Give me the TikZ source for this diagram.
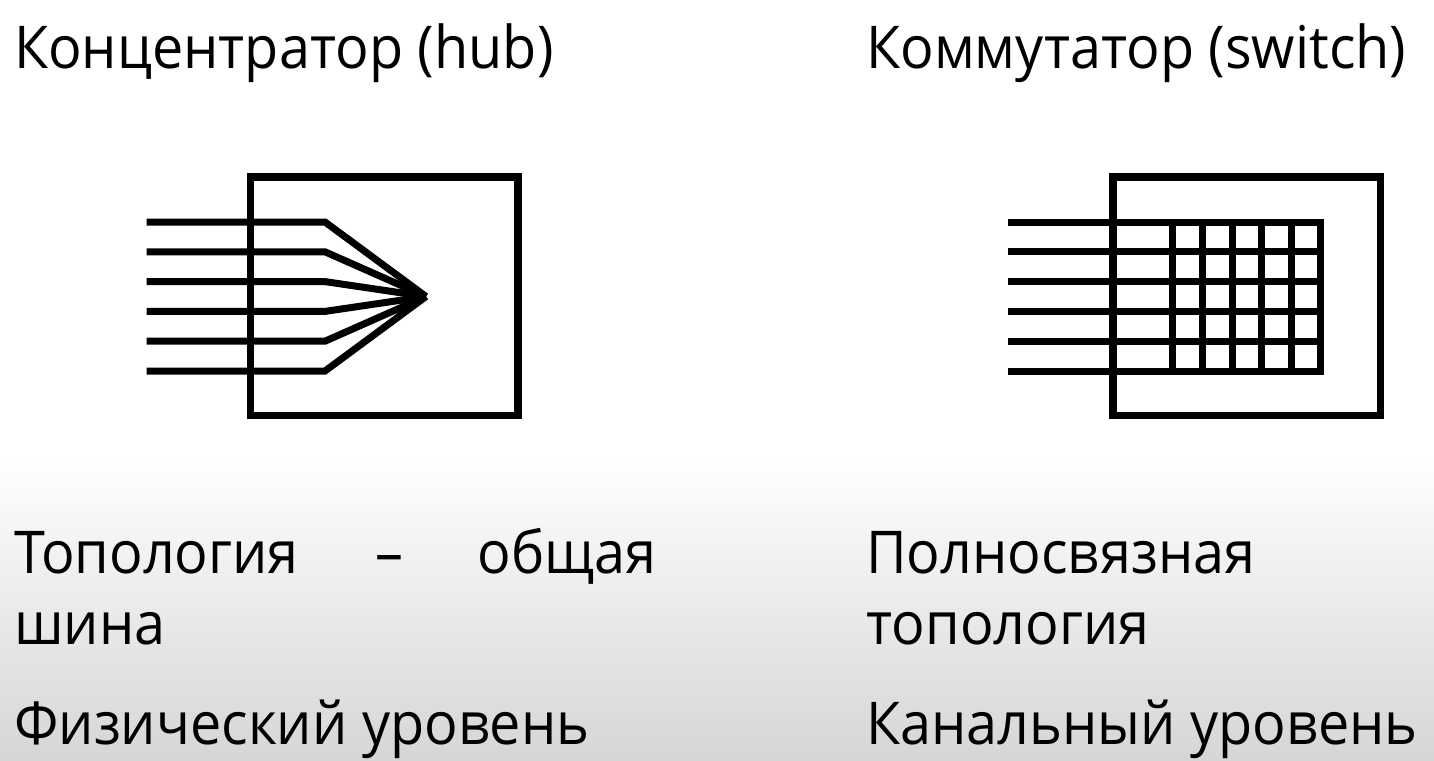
\documentclass[tikz,border=0pt]{standalone}
\usepackage{fontspec}
\setmainfont[FakeStretch=0.945]{Open Sans}
\begin{document}
\begin{tikzpicture}[x=1pt,y=-1pt,
  txt/.style={anchor=base west,inner sep=0pt,font=\fontsize{59}{70}\selectfont,text=black},
  wire/.style={line width=7pt,line cap=butt,line join=miter,draw=black},
  frame/.style={line width=7.3pt,draw=black}]
\useasboundingbox (0,0) rectangle (1434,760);
\fill[white] (0,0) rectangle (1434,456);
\shade[top color=white,bottom color={rgb,255:red,214;green,214;blue,214}] (0,455) rectangle (1434,760);
% titles
\node[txt] (t1) at (14,69) {Концентратор (hub)};
\node[txt] (t2) at (866,69) {Коммутатор (switch)};
% hub
\draw[frame] (250.3,177) rectangle (518,415.5);
\coordinate (hc) at (426,296.5);
\foreach \y in {222,251.8,281.6,311.4,341.2,371}{
  \draw[wire] (146.7,\y) -- (325,\y) -- (hc);
}
% switch
\draw[frame] (1113,177) rectangle (1380.3,415.5);
\foreach \y in {222,251.8,281.6,311.4,341.2,371}{
  \draw[wire] (1008.3,\y) -- (1323.5,\y);
}
\foreach \x in {1172,1202,1232,1261.8,1291.8,1320}{
  \draw[wire,line cap=rect] (\x,222) -- (\x,371);
}
% bottom texts
\node[txt] (b1) at (14,573) {Топология};
\node[txt,anchor=base] (b1d) at (389,573) {–};
\node[txt,anchor=base east] (b1e) at (657,573) {общая};
\node[txt] (b2) at (14,644) {шина};
\node[txt] (b3) at (14,744) {Физический уровень};
\node[txt] (c1) at (866,573) {Полносвязная};
\node[txt] (c2) at (866,644) {топология};
\node[txt] (c3) at (866,744) {Канальный уровень};
\end{tikzpicture}
\end{document}
